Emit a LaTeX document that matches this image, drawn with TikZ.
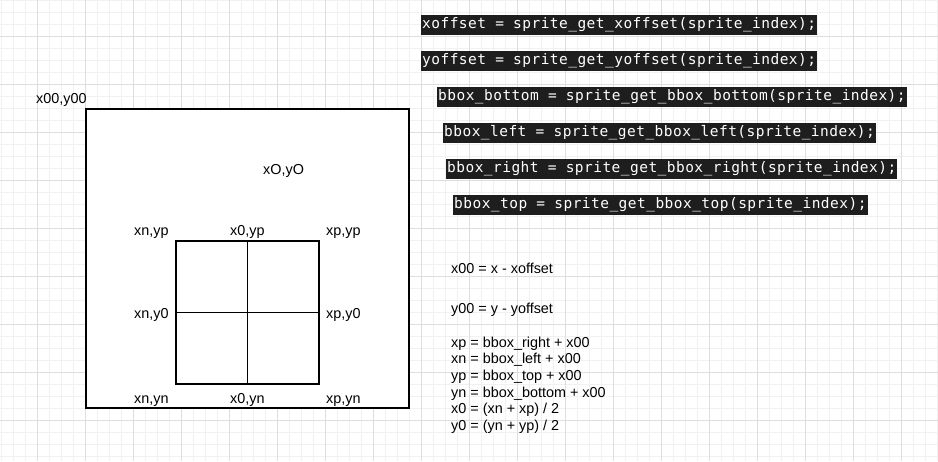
\documentclass[tikz,border=0pt]{standalone}
\usepackage{fontspec}
\setmainfont{Liberation Sans}
\newfontfamily\codefont{DejaVu Sans Mono}[LetterSpace=3.2]
\definecolor{codebg}{HTML}{1E1E1E}
\definecolor{minorgrid}{HTML}{F1F1F1}
\definecolor{majorgrid}{HTML}{DEDEDE}
\tikzset{
  lbl/.style={anchor=base west, inner sep=0pt, font=\fontsize{14.4}{16}\selectfont, text=black},
  codebox/.style={anchor=west, fill=codebg, text=white, inner xsep=1pt, inner ysep=0pt,
    minimum height=20.5pt, font=\codefont\fontsize{14.5}{16}\selectfont},
  frame/.style={draw=black, line width=1.2pt, fill=white},
  divider/.style={draw=black, line width=1.2pt}
}
\begin{document}
\begin{tikzpicture}[x=1pt,y=-1pt]
\useasboundingbox[fill=white] (0,0) rectangle (938,461);
% grid
\foreach \i in {0,...,78} \draw[minorgrid, line width=0.8pt] ({1+12*\i},0) -- ({1+12*\i},461);
\foreach \j in {0,...,38} \draw[minorgrid, line width=0.8pt] (0,{12*\j}) -- (938,{12*\j});
\foreach \i in {0,...,18} \draw[majorgrid, line width=1pt] ({37+48*\i},0) -- ({37+48*\i},461);
\foreach \j in {0,...,8} \draw[majorgrid, line width=1pt] (0,{36+48*\j}) -- (938,{36+48*\j});

% outer rectangle
\coordinate (oTL) at (86,109);
\coordinate (oBR) at (409,408);
\draw[frame] (oTL) rectangle (oBR);

% inner square
\coordinate (iTL) at (176,241);
\coordinate (iBR) at (319,384);
\coordinate (midT) at (247.5,241);
\coordinate (midB) at (247.5,384);
\coordinate (midL) at (176,312.5);
\coordinate (midR) at (319,312.5);
\draw[frame] (iTL) rectangle (iBR);
\draw[divider] (midT) -- (midB);
\draw[divider] (midL) -- (midR);

% labels
\node[lbl] (l00) at (36,103) {x00,y00};
\node[lbl] (lOO) at (263,174.5) {xO,yO};
\node[lbl] (lnp) at (134,235) {xn,yp};
\node[lbl] (l0p) at (230,235) {x0,yp};
\node[lbl] (lpp) at (326,235) {xp,yp};
\node[lbl] (ln0) at (134,318.5) {xn,y0};
\node[lbl] (lp0) at (326,318.5) {xp,y0};
\node[lbl] (lnn) at (134,403) {xn,yn};
\node[lbl] (l0n) at (230,403) {x0,yn};
\node[lbl] (lpn) at (326,403) {xp,yn};

% code boxes
\node[codebox] (c1) at (421,25) {xoffset = sprite\_get\_xoffset(sprite\_index);};
\node[codebox] (c2) at (421,61) {yoffset = sprite\_get\_yoffset(sprite\_index);};
\node[codebox] (c3) at (437,97) {bbox\_bottom = sprite\_get\_bbox\_bottom(sprite\_index);};
\node[codebox] (c4) at (443,133) {bbox\_left = sprite\_get\_bbox\_left(sprite\_index);};
\node[codebox] (c5) at (446,169) {bbox\_right = sprite\_get\_bbox\_right(sprite\_index);};
\node[codebox] (c6) at (453,205) {bbox\_top = sprite\_get\_bbox\_top(sprite\_index);};

% formulas
\node[lbl] (f1) at (451,273.5) {x00 = x - xoffset};
\node[lbl] (f2) at (451,313.5) {y00 = y - yoffset};
\node[lbl] (f3) at (451,347) {xp = bbox\_right + x00};
\node[lbl] (f4) at (451,363.7) {xn = bbox\_left + x00};
\node[lbl] (f5) at (451,380.3) {yp = bbox\_top + x00};
\node[lbl] (f6) at (451,397) {yn = bbox\_bottom + x00};
\node[lbl] (f7) at (451,413.7) {x0 = (xn + xp) / 2};
\node[lbl] (f8) at (451,430.3) {y0 = (yn + yp) / 2};
\end{tikzpicture}
\end{document}
